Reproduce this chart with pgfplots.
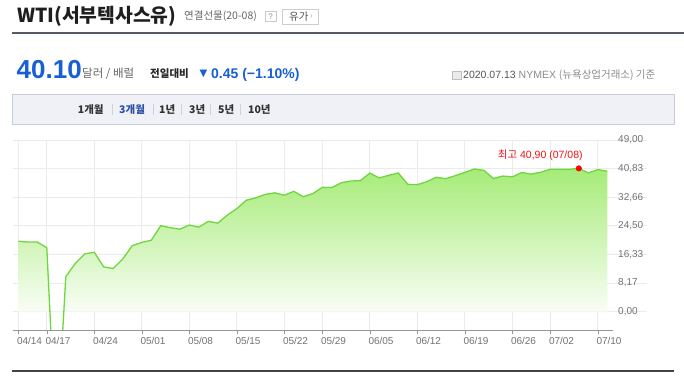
\documentclass[border=0pt]{standalone}
\usepackage{fontspec}
\setmainfont{Liberation Sans}
\newfontfamily\kr{Noto Sans CJK KR}
\newfontfamily\dv{DejaVu Sans}
\usepackage{pgfplots}
\pgfplotsset{compat=1.18}
\definecolor{gridgray}{RGB}{235,235,235}
\definecolor{axisgray}{RGB}{150,150,150}
\definecolor{ticktext}{RGB}{115,115,115}
\definecolor{wtigreen}{RGB}{112,214,64}
\definecolor{wtitop}{RGB}{150,232,95}
\definecolor{bigblue}{RGB}{24,94,212}
\definecolor{tabblue}{RGB}{43,78,166}
\definecolor{darkline}{RGB}{85,91,102}
\definecolor{tabfill}{RGB}{239,241,246}
\definecolor{tabdraw}{RGB}{198,204,216}
\definecolor{tabsep}{RGB}{205,209,218}
\definecolor{hilite}{RGB}{240,20,20}
\definecolor{t30}{RGB}{30,30,30}
\definecolor{t40}{RGB}{40,40,40}
\definecolor{t50}{RGB}{50,50,50}
\definecolor{t85}{RGB}{85,85,85}
\definecolor{t102}{RGB}{102,102,102}
\definecolor{t140}{RGB}{140,140,140}
\definecolor{t170}{RGB}{170,170,170}
\definecolor{b190}{RGB}{190,190,190}
\definecolor{b200}{RGB}{200,200,200}
\definecolor{b205}{RGB}{205,205,205}
\definecolor{f235}{RGB}{235,235,235}
\definecolor{rule68}{RGB}{68,68,68}
\pgfdeclareverticalshading{wtishade}{100bp}{color(0bp)=(white); color(47bp)=(white); color(80bp)=(wtitop); color(100bp)=(wtitop)}

\pgfplotstableread{
x y
0 20.11
1 19.87
2 19.87
3 18.27
4 -37.63
5 10.01
6 13.78
7 16.50
8 16.94
9 12.78
10 12.34
11 15.06
12 18.84
13 19.78
14 20.39
15 24.56
16 23.99
17 23.55
18 24.74
19 24.14
20 25.78
21 25.29
22 27.56
23 29.43
24 31.82
25 32.50
26 33.49
27 33.92
28 33.25
29 34.35
30 32.81
31 33.71
32 35.49
33 35.44
34 36.81
35 37.29
36 37.41
37 39.55
38 38.19
39 38.94
40 39.60
41 36.34
42 36.26
43 37.12
44 38.38
45 37.96
46 38.84
47 39.75
48 40.73
49 40.37
50 38.01
51 38.72
52 38.49
53 39.70
54 39.27
55 39.82
56 40.65
57 40.63
58 40.62
59 40.90
60 39.62
61 40.55
62 40.10
}\wti

\begin{document}
\begin{tikzpicture}
\path[use as bounding box] (0pt,0pt) rectangle (684pt,-381pt);
\fill[white] (0pt,0pt) rectangle (684pt,-381pt);
\begin{scope}[x=1pt,y=-1pt]
% header
\node[anchor=west, inner sep=0pt, text=t30, font=\kr\bfseries\fontsize{19.3}{21}\selectfont] at (17,16) {WTI(서부텍사스유)};
\node[anchor=west, inner sep=0pt, text=t102, font=\kr\fontsize{10.5}{12}\selectfont] at (184,16) {연결선물(20-08)};
\draw[draw=b200, fill=white] (265,11.5) rectangle (276,21.5);
\node[inner sep=0pt, text=t140, font=\fontsize{8}{9}\selectfont] at (270.5,16.5) {?};
\draw[draw=b205, fill=white] (282,9.5) rectangle (318,24);
\node[anchor=west, inner sep=0pt, text=t85, font=\kr\fontsize{10.5}{12}\selectfont] at (289,16.5) {유가};
\node[anchor=west, inner sep=0pt, text=t170, font=\fontsize{8}{9}\selectfont] at (310,17) {›};
\draw[darkline, line width=2pt] (12,33.3) -- (684,33.3);
% price line
\node[anchor=base west, inner sep=0pt, text=bigblue, font=\bfseries\fontsize{26}{28}\selectfont] at (16.5,78) {40.10};
\node[anchor=base west, inner sep=0pt, text=t102, font=\kr\fontsize{11.5}{13}\selectfont] at (82,77) {달러 / 배럴};
\node[anchor=base west, inner sep=0pt, text=t40, font=\kr\bfseries\fontsize{10.5}{12}\selectfont] at (150,77) {전일대비};
\node[anchor=base west, inner sep=0pt, text=bigblue, font=\dv\fontsize{10}{12}\selectfont] at (199.5,76.5) {▼};
\node[anchor=base west, inner sep=0pt, text=bigblue, font=\bfseries\fontsize{14}{16}\selectfont] at (211,78) {0.45 (\textminus1.10\%)};
% info at right
\draw[draw=b190, fill=f235] (452,71) rectangle (461,79);
\node[anchor=west, inner sep=0pt, text=t140, font=\fontsize{10.5}{12}\selectfont] at (463,75) {\textcolor{t85}{2020.07.13} NYMEX {\kr (뉴욕상업거래소) 기준}};
% tab box
\draw[draw=tabdraw, fill=tabfill] (12,94.3) rectangle (674,124.3);
\begin{scope}[every node/.style={anchor=west, inner sep=0pt, font=\kr\bfseries\fontsize{10.5}{12}\selectfont, text=t50}]
\node at (77.7,109.3) {1개월};
\node[text=tabblue] at (119,109.3) {3개월};
\node at (159,109.3) {1년};
\node at (189,109.3) {3년};
\node at (218,109.3) {5년};
\node at (248,109.3) {10년};
\end{scope}
\foreach \sx in {112,152.8,181,210,240}{\draw[draw=tabsep] (\sx,104) -- (\sx,114.5);}
% bottom rule
\draw[draw=rule68, line width=1.8pt] (12,371) -- (674,371);
\end{scope}

\begin{axis}[
  at={(12.7pt,-330pt)}, anchor=south west,
  scale only axis, width=634.3pt, height=190pt,
  xmin=-0.59, xmax=66.18, ymin=-5.22, ymax=49,
  axis line style={draw=none},
  xtick={0,3,8,13,18,23,28,32,37,42,47,52,56,61},
  xticklabels={04/14,04/17,04/24,05/01,05/08,05/15,05/22,05/29,06/05,06/12,06/19,06/26,07/02,07/10},
  xtick pos=left, xtick align=outside, major tick length=4pt,
  xtick style={draw=axisgray},
  ytick={0,8.1667,16.3333,24.5,32.6667,40.8333,49},
  yticklabels={{0,00},{8,17},{16,33},{24,50},{32,66},{40,83},{49,00}},
  ytick pos=right, yticklabel pos=right,
  ytick style={draw=none},
  grid=major, major grid style={draw=gridgray, line width=0.8pt},
  /pgf/number format/assume math mode=true,
  ticklabel style={font=\fontsize{10}{12}\selectfont, text=ticktext, inner sep=0pt},
  xticklabel style={anchor=north west, xshift=-1.5pt, yshift=-3pt},
  yticklabel style={anchor=west, xshift=-29pt},
  clip=true,
]
\addplot[draw=none, shading=wtishade, forget plot] table[x=x,y=y] {\wti} \closedcycle;
\addplot[wtigreen, line width=1.3pt] table[x=x,y=y] {\wti};
\addplot[only marks, mark=*, mark size=2.8pt, color=red] coordinates {(59,40.90)};
\node[anchor=east, inner sep=0pt, text=hilite, font=\fontsize{10.5}{12}\selectfont, xshift=4pt, yshift=13.5pt] at (axis cs:59,40.90) {{\kr 최고} 40,90 (07/08)};
\end{axis}
\draw[axisgray] (12.7pt,-330pt) -- (613pt,-330pt);
\end{tikzpicture}
\end{document}
